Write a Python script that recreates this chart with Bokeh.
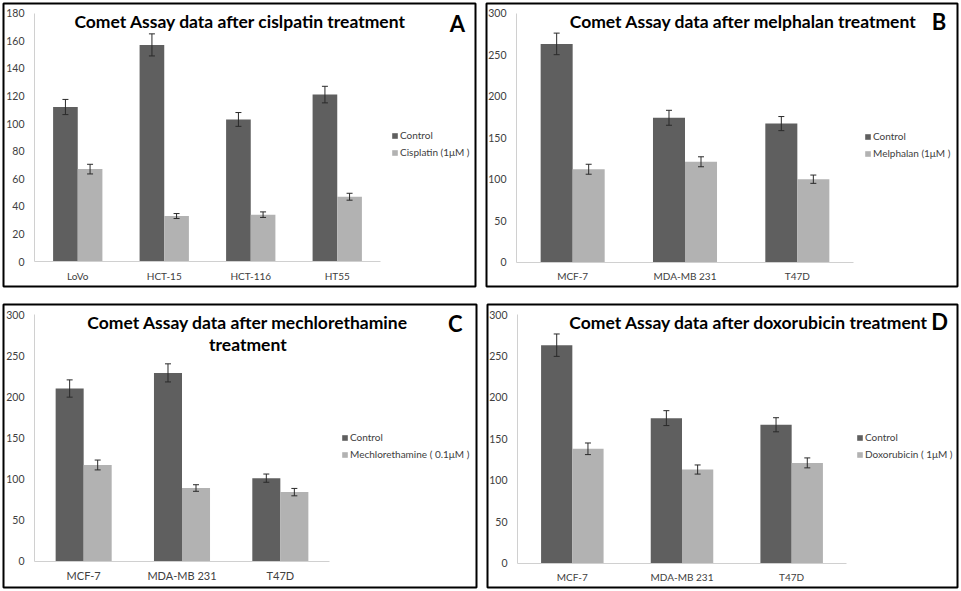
from bokeh.plotting import figure
from bokeh.models import (ColumnDataSource, Range1d, Label, Legend, LegendItem, FixedTicker, LinearAxis)
from bokeh.transform import dodge
from bokeh.layouts import row, column
from bokeh.embed import file_html
from bokeh.resources import INLINE

# ---------------- data ----------------
a_cells = ["LoVo", "HCT-15", "HCT-116", "HT55"]
a_control = [112, 157, 103, 121]
a_control_err = [5.5, 8, 5, 6]
a_treat = [67, 33, 34, 47]
a_treat_err = [3.5, 1.8, 2, 2.5]
a_treat_label = "Cisplatin (1μM )"
a_title = ["Comet Assay data after cislpatin treatment"]
a_letter = "A"
a_ticks = [0, 20, 40, 60, 80, 100, 120, 140, 160, 180]

b_cells = ["MCF-7", "MDA-MB 231", "T47D"]
b_control = [263, 174, 167]
b_control_err = [13, 9, 8.5]
b_treat = [112, 121, 100]
b_treat_err = [6, 6, 5]
b_treat_label = "Melphalan (1μM )"
b_title = ["Comet Assay data after melphalan treatment"]
b_letter = "B"
b_ticks = [0, 50, 100, 150, 200, 250, 300]

c_cells = ["MCF-7", "MDA-MB 231", "T47D"]
c_control = [210, 229, 101]
c_control_err = [10.5, 11, 5]
c_treat = [117, 89, 84]
c_treat_err = [6, 4, 4.5]
c_treat_label = "Mechlorethamine ( 0.1μM )"
c_title = ["Comet Assay data after mechlorethamine", "treatment"]
c_letter = "C"
c_ticks = [0, 50, 100, 150, 200, 250, 300]

d_cells = ["MCF-7", "MDA-MB 231", "T47D"]
d_control = [263, 175, 167]
d_control_err = [13.5, 9, 8.5]
d_treat = [138, 113, 121]
d_treat_err = [7, 5.5, 6]
d_treat_label = "Doxorubicin ( 1μM )"
d_title = ["Comet Assay data after doxorubicin treatment"]
d_letter = "D"
d_ticks = [0, 50, 100, 150, 200, 250, 300]

DARK = "#5f5f5f"
LIGHT = "#b2b2b2"
FONT = "Lato"


def make_panel(cells, ctrl, ctrl_err, trt, trt_err, trt_label, title_lines, letter, ticks, lay):
    # lay: figure box, frame (panel border) box and axis geometry in pixels of the figure
    W, H = lay["size"]
    fl, ft, fr, fb = lay["frame"]          # frame edges (figure px)
    ax0, ax1, ay0, aytop = lay["axes"]     # y-axis x, x-axis end, baseline y, y of top tick
    n = len(cells)
    ymax = ticks[-1]
    pxc = (ax1 - ax0) / n
    ppu = (ay0 - aytop) / ymax
    x_range = Range1d(-(ax0 - fl) / pxc, (fr - ax0) / pxc)
    y_range = Range1d(-(fb - ay0) / ppu, ymax + (aytop - ft) / ppu)

    xpos = [i + 0.5 for i in range(n)]
    src = ColumnDataSource(dict(
        x=xpos, ctrl=ctrl, trt=trt,
        ctrl_hi=[v + e for v, e in zip(ctrl, ctrl_err)],
        ctrl_lo=[v - e for v, e in zip(ctrl, ctrl_err)],
        trt_hi=[v + e for v, e in zip(trt, trt_err)],
        trt_lo=[v - e for v, e in zip(trt, trt_err)],
    ))
    p = figure(width=W, height=H, x_range=x_range, y_range=y_range,
               output_backend="svg", toolbar_location=None,
               x_axis_location=None, y_axis_location=None,
               min_border_left=fl, min_border_right=W - fr, min_border_top=ft, min_border_bottom=H - fb)
    p.outline_line_color = "#000000"
    p.outline_line_width = 2
    p.xgrid.grid_line_color = None
    p.ygrid.grid_line_color = None
    p.background_fill_color = "white"
    p.border_fill_color = "white"

    bw = 0.285
    off = bw / 2
    cw = 3.0 / pxc

    r1 = p.vbar(x=dodge("x", -off), top="ctrl", width=bw, source=src, fill_color=DARK, line_color=None)
    r2 = p.vbar(x=dodge("x", off), top="trt", width=bw, source=src, fill_color=LIGHT, line_color=None)
    for o, hi, lo in ((-off, "ctrl_hi", "ctrl_lo"), (off, "trt_hi", "trt_lo")):
        p.segment(x0=dodge("x", o), x1=dodge("x", o), y0=lo, y1=hi, source=src,
                  line_color="#2a2a2a", line_width=1)
        for end in (hi, lo):
            p.segment(x0=dodge("x", o - cw), x1=dodge("x", o + cw), y0=end, y1=end, source=src,
                      line_color="#2a2a2a", line_width=1)

    yaxis = LinearAxis(fixed_location=0, bounds=(0, ymax), ticker=FixedTicker(ticks=ticks))
    xaxis = LinearAxis(fixed_location=0, bounds=(0, n), ticker=FixedTicker(ticks=xpos),
                       major_label_overrides={xv: c for xv, c in zip(xpos, cells)})
    for ax in (xaxis, yaxis):
        ax.axis_line_color = "#d0d0d0"
        ax.axis_line_width = 1
        ax.major_tick_line_color = None
        ax.minor_tick_line_color = None
        ax.major_tick_out = 0
        ax.major_tick_in = 0
        ax.minor_tick_out = 0
        ax.minor_tick_in = 0
        ax.major_label_text_font = FONT
        ax.major_label_text_color = "#404040"
    yaxis.major_label_text_font_size = "10.5px"
    yaxis.major_label_standoff = 10
    xaxis.major_label_text_font_size = lay["cat_font"]
    xaxis.major_label_standoff = 8
    p.add_layout(yaxis, "left")
    p.add_layout(xaxis, "below")

    lgx, lgy = lay["legend"]
    legend = Legend(items=[LegendItem(label="Control", renderers=[r1]),
                           LegendItem(label=trt_label, renderers=[r2])],
                    location=(lgx - fl, fb - lgy), orientation="vertical",
                    glyph_width=7, glyph_height=7, label_standoff=2, label_height=14,
                    padding=0, margin=0, spacing=3, border_line_color=None,
                    background_fill_alpha=0, label_text_font_size="10px",
                    label_text_color="#404040", label_text_font=FONT)
    p.add_layout(legend)

    tx, ty, dy = lay["title"]
    for i, line in enumerate(title_lines):
        p.add_layout(Label(x=tx, y=ty - i * dy, text=line, text_align="center", text_baseline="middle",
                           text_font=FONT, text_font_style="bold", text_font_size="17.5px",
                           text_color="#000000"))
    lx, ly = lay["letter"]
    p.add_layout(Label(x=lx, y=ly, text=letter, text_align="center", text_baseline="middle",
                       text_font=FONT, text_font_style="bold", text_font_size="22px",
                       text_color="#000000"))
    return p


lay_a = dict(size=(480, 295), frame=(3, 2, 475, 286), axes=(34, 380, 261, 11.7),
             legend=(391, 159), title=(2.38, 174, 0), letter=(4.89, 172.6), cat_font="10px")
lay_b = dict(size=(480, 295), frame=(6, 3, 477, 286), axes=(36, 373, 261.7, 12.7),
             legend=(384, 160), title=(2.02, 290, 0), letter=(3.76, 290), cat_font="10px")
lay_c = dict(size=(480, 295), frame=(3, 9, 476, 292), axes=(34, 329, 265.7, 19),
             legend=(341, 166), title=(2.17, 290.7, 27.1), letter=(4.28, 289), cat_font="11px")
lay_d = dict(size=(480, 295), frame=(7, 9, 477, 292), axes=(37, 366, 267.7, 19),
             legend=(376, 166), title=(2.11, 290.7, 0), letter=(3.85, 291.6), cat_font="10px")

pA = make_panel(a_cells, a_control, a_control_err, a_treat, a_treat_err, a_treat_label, a_title, a_letter,
                a_ticks, lay_a)
pB = make_panel(b_cells, b_control, b_control_err, b_treat, b_treat_err, b_treat_label, b_title, b_letter,
                b_ticks, lay_b)
pC = make_panel(c_cells, c_control, c_control_err, c_treat, c_treat_err, c_treat_label, c_title, c_letter,
                c_ticks, lay_c)
pD = make_panel(d_cells, d_control, d_control_err, d_treat, d_treat_err, d_treat_label, d_title, d_letter,
                d_ticks, lay_d)

layout = column(row(pA, pB, spacing=0), row(pC, pD, spacing=0), spacing=0)

open("out.html", "w").write(file_html(layout, INLINE))
